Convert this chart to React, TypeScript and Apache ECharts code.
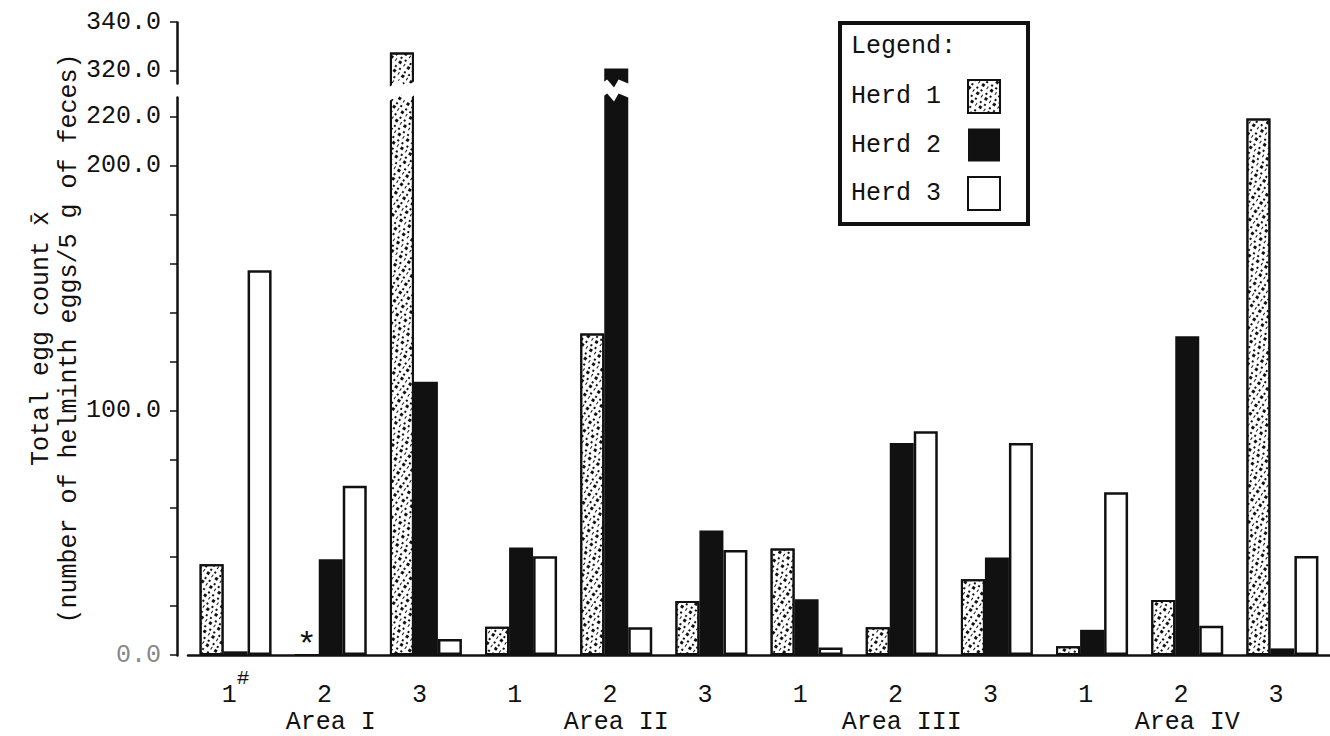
import React, { useEffect, useRef } from 'react';
import * as echarts from 'echarts';

const FONT = '"Liberation Mono", "DejaVu Sans Mono", monospace';
const INK = '#111';

// Sub-group labels (1, 2, 3 within each area)
const categories = ['1', '2', '3', '1', '2', '3', '1', '2', '3', '1', '2', '3'];
const areas = ['Area I', 'Area II', 'Area III', 'Area IV'];
const herdNames = ['Herd 1', 'Herd 2', 'Herd 3'];

// Mean total egg counts
const herd1 = [37.1, 0, 327.5, 11.5, 131.4, 22.1, 43.5, 11.3, 31.0, 3.6, 22.5, 219.3];
const herd2 = [1.5, 39.1, 111.7, 43.9, 321.0, 50.9, 22.8, 86.6, 39.8, 10.3, 130.3, 2.7];
const herd3 = [157.2, 69.2, 6.5, 40.4, 11.3, 42.9, 3.1, 91.4, 86.6, 66.5, 12.0, 40.5];

// index of the Herd 1 value marked with an asterisk
const asteriskIndex = 1;
// index of the sub-group label carrying the "#" mark
const hashIndex = 0;

const yTickLabels = [0, 100, 200, 220, 320, 340];
const yTicks = [0, 20, 40, 60, 80, 100, 120, 140, 160, 180, 200, 220, 320, 340];

export default function App() {
  const ref = useRef<HTMLDivElement>(null);

  useEffect(() => {
    const chart = echarts.init(ref.current!, null, { renderer: 'svg' });

    const herd1Data = herd1.map((v, i) =>
      i === asteriskIndex
        ? {
            value: v,
            label: {
              show: true,
              position: 'top',
              distance: -9,
              formatter: '*',
              fontSize: 34,
              fontFamily: FONT,
              color: INK,
            },
          }
        : v
    );

    const option: any = {
      animation: false,
      backgroundColor: '#fff',
      textStyle: { fontFamily: FONT, color: INK },
      title: {
        text: 'Legend:',
        left: 851,
        top: 34,
        padding: 0,
        z: 30,
        textStyle: { fontFamily: FONT, fontSize: 25, fontWeight: 'normal', color: INK },
      },
      legend: {
        data: herdNames,
        orient: 'vertical',
        left: 840,
        top: 23,
        z: 20,
        align: 'right',
        padding: [56, 27, 13, 11],
        itemGap: 14.5,
        itemWidth: 32,
        itemHeight: 33,
        borderColor: INK,
        borderWidth: 4,
        backgroundColor: '#fff',
        icon: 'rect',
        selectedMode: false,
        textStyle: { fontFamily: FONT, fontSize: 25, color: INK, padding: [0, 22, 0, 0] },
      },
      grid: { left: 188, right: 0, top: 22, bottom: 81 },
      xAxis: [
        {
          type: 'category',
          data: categories,
          position: 'bottom',
          axisLine: { lineStyle: { color: INK, width: 2.5 } },
          axisTick: { show: false },
          axisLabel: {
            interval: 0,
            margin: 13,
            formatter: (v: string, i: number) => `{a|${v}}{h|${i === hashIndex ? '#' : ' '}}`,
            rich: {
              a: { fontSize: 25, fontFamily: FONT, color: INK, verticalAlign: 'bottom' },
              h: {
                fontSize: 21,
                fontFamily: FONT,
                color: INK,
                verticalAlign: 'bottom',
                padding: [0, 0, 19, 0],
              },
            },
          },
        },
        {
          type: 'category',
          data: areas,
          position: 'bottom',
          axisLine: { show: false },
          axisTick: { show: false },
          axisLabel: {
            interval: 0,
            margin: 56,
            lineHeight: 22,
            fontSize: 25,
            fontFamily: FONT,
            color: INK,
          },
        },
      ],
      yAxis: {
        type: 'value',
        min: 0,
        max: 340,
        interval: 20,
        offset: 11,
        breaks: [{ start: 228, end: 315, gap: 5.7 }],
        breakArea: {
          show: true,
          zigzagZ: 5,
          itemStyle: { color: '#fff', borderColor: '#fff', borderWidth: 0, opacity: 1 },
        },
        axisLine: { show: true, lineStyle: { color: INK, width: 2.5 } },
        axisTick: {
          show: true,
          length: 7,
          customValues: yTicks,
          lineStyle: { color: INK, width: 1.5 },
        },
        splitLine: { show: false },
        axisLabel: {
          margin: 16,
          fontSize: 25,
          fontFamily: FONT,
          color: INK,
          customValues: yTickLabels,
          formatter: (v: number) => {
            const r = Math.round(v);
            if (!yTickLabels.includes(r)) return '';
            return r === 0 ? '{g|0.0}' : r.toFixed(1);
          },
          rich: { g: { fontSize: 25, fontFamily: FONT, color: '#888' } },
        },
        name: 'Total egg count x\u0304\n(number of helminth eggs/5 g of feces)',
        nameLocation: 'middle',
        nameRotate: 90,
        nameGap: 94,
        nameMoveOverlap: false,
        nameTextStyle: { fontSize: 25, lineHeight: 28, fontFamily: FONT, color: INK },
      },
      series: [
        {
          name: herdNames[0],
          type: 'bar',
          data: herd1Data,
          barWidth: 24,
          barGap: '0%',
          itemStyle: {
            color: '#fff',
            borderColor: INK,
            borderWidth: 2,
            decal: {
              symbol: 'rect',
              symbolSize: 1,
              color: '#111',
              dashArrayX: [
                [2, 3, 2, 4],
                [1, 3, 3, 3],
              ],
              dashArrayY: [2, 2, 3, 3],
              rotation: 0.6,
            },
          },
        },
        {
          name: herdNames[1],
          type: 'bar',
          data: herd2,
          barWidth: 24,
          barGap: '0%',
          itemStyle: { color: INK },
        },
        {
          name: herdNames[2],
          type: 'bar',
          data: herd3,
          barWidth: 24,
          barGap: '0%',
          itemStyle: { color: '#fff', borderColor: INK, borderWidth: 2.5 },
        },
      ],
    };

    chart.setOption(option);
    return () => chart.dispose();
  }, []);

  return (
    <div
      ref={ref}
      style={{ position: 'fixed', left: 0, top: 0, width: 1330, height: 736, background: '#fff' }}
    />
  );
}
